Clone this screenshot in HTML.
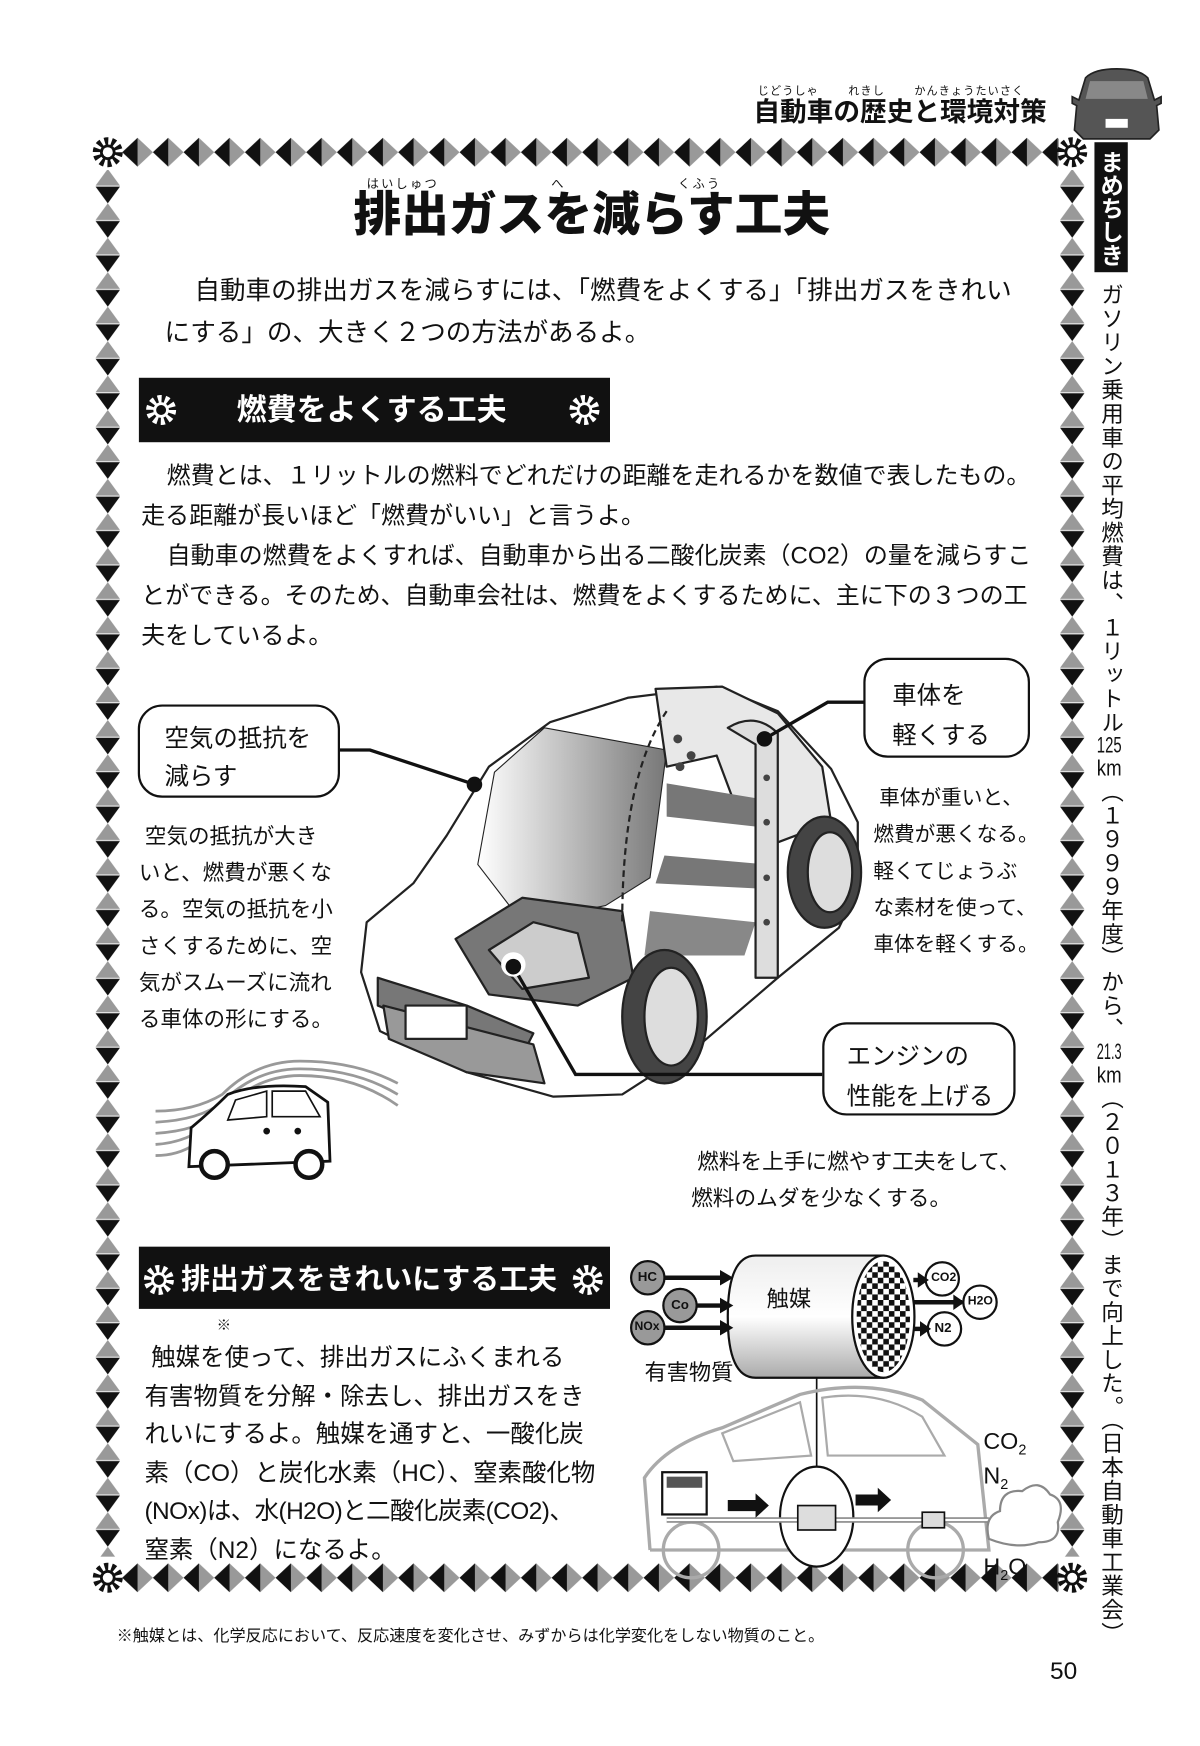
<!DOCTYPE html>
<html><head><meta charset="utf-8"><style>
html,body{margin:0;padding:0;background:#fff;}
body{width:1200px;height:1746px;overflow:hidden;position:relative;}
#pg{position:absolute;left:0;top:0;width:1080px;height:1571px;transform:scale(1.11111);transform-origin:0 0;font-family:"Liberation Sans","Noto Sans CJK JP",sans-serif;color:#111;}
.t{position:absolute;white-space:nowrap;line-height:1;}
.b{font-weight:bold;}
svg{position:absolute;left:0;top:0;}
.box{position:absolute;border:2.5px solid #111;border-radius:22px;background:#fff;}
.v{position:absolute;writing-mode:vertical-rl;white-space:nowrap;line-height:1;}
.tc{text-combine-upright:all;}
</style></head><body><div id="pg">
<svg width="1080" height="1571" viewBox="0 0 1080 1571">
<defs>
<pattern id="ph" x="110" y="122" width="27.6" height="30" patternUnits="userSpaceOnUse">
<polygon points="0,15 13.8,2 13.8,28" fill="#111"/><polygon points="13.8,2 27.6,15 13.8,28" fill="#999"/>
</pattern>
<pattern id="pv" x="86" y="152" width="22" height="31" patternUnits="userSpaceOnUse">
<polygon points="11,0 0,15 22,15" fill="#999"/><polygon points="0,16 22,16 11,31" fill="#111"/>
</pattern>
<pattern id="pv2" x="954" y="152" width="22" height="31" patternUnits="userSpaceOnUse">
<polygon points="11,0 0,15 22,15" fill="#999"/><polygon points="0,16 22,16 11,31" fill="#111"/>
</pattern>
<pattern id="ph2" x="110" y="1405" width="27.6" height="30" patternUnits="userSpaceOnUse">
<polygon points="0,15 13.8,2 13.8,28" fill="#111"/><polygon points="13.8,2 27.6,15 13.8,28" fill="#999"/>
</pattern>
<pattern id="chk" width="10" height="10" patternUnits="userSpaceOnUse">
<rect width="5" height="5" fill="#111"/><rect x="5" y="5" width="5" height="5" fill="#111"/>
</pattern>
<linearGradient id="gw" x1="0" x2="1"><stop offset="0" stop-color="#fff"/><stop offset="1" stop-color="#777"/></linearGradient>
<linearGradient id="gc" x1="0" y1="0" x2="0" y2="1"><stop offset="0" stop-color="#eee"/><stop offset=".5" stop-color="#fff"/><stop offset="1" stop-color="#aaa"/></linearGradient>
<g id="star"><circle r="9" fill="none" stroke="#111" stroke-width="9" stroke-dasharray="3 2.65"/><circle r="7" fill="#111"/><circle r="4.5" fill="#fff"/></g>
<g id="starw"><circle r="9" fill="none" stroke="#fff" stroke-width="9" stroke-dasharray="3 2.65"/><circle r="7" fill="#fff"/><circle r="4.5" fill="#111"/></g>
</defs>
<rect x="110" y="122" width="843" height="30" fill="url(#ph)"/>
<rect x="110" y="1405" width="843" height="30" fill="url(#ph2)"/>
<rect x="86" y="153" width="22" height="1248" fill="url(#pv)"/>
<rect x="954" y="153" width="22" height="1248" fill="url(#pv2)"/>
<use href="#star" x="97" y="137"/><use href="#star" x="965" y="137"/>
<use href="#star" x="97" y="1420"/><use href="#star" x="965" y="1420"/>
<g transform="translate(1005,95)">
<path d="M-28,-25 Q-20,-33 0,-33 Q20,-33 28,-25 L34,-5 L40,-8 L40,-2 L36,0 L38,22 L30,30 L-30,30 L-38,22 L-36,0 L-40,-2 L-40,-8 L-34,-5 Z" fill="#555" stroke="#222" stroke-width="1.5"/>
<path d="M-24,-22 L24,-22 L28,-6 L-28,-6 Z" fill="#888"/>
<rect x="-10" y="12" width="20" height="8" fill="#fff"/>
</g>
<rect x="985" y="128" width="30" height="117" fill="#111"/>
<rect x="125" y="340" width="424" height="58" fill="#111"/>
<use href="#starw" x="145" y="369"/><use href="#starw" x="526" y="369"/>
<rect x="125" y="1122" width="424" height="56" fill="#111"/>
<use href="#starw" x="143" y="1152"/><use href="#starw" x="529" y="1152"/>

<g stroke="#222" stroke-width="2" stroke-linejoin="round">
<path d="M325,875 L330,830 L372,795 L402,752 L440,690 L495,650 L565,628 L645,618 L700,640 L748,692 L772,740 L772,800 L755,835 L700,880 L630,940 L560,985 L498,987 L420,965 L342,928 Z" fill="#fff"/>
<path d="M445,695 L490,655 L600,675 L585,790 L545,815 L470,830 L430,778 Z" fill="url(#gw)" stroke-width="1"/>
<path d="M590,620 L650,618 L700,642 L740,690 L748,740 L695,760 L660,720 L645,680 L600,690 Z" fill="#e8e8e8"/>
<path d="M600,705 L690,720 L690,745 L600,735 Z" fill="#777" stroke="none"/>
<path d="M598,770 L690,778 L690,800 L590,795 Z" fill="#777" stroke="none"/>
<path d="M585,820 L680,830 L670,860 L580,860 Z" fill="#888" stroke="none"/>
<path d="M410,845 L470,808 L560,820 L570,880 L520,905 L440,895 Z" fill="#777"/>
<path d="M440,855 L480,830 L520,840 L530,880 L470,890 Z" fill="#ccc"/>
<path d="M340,880 L420,905 L480,930 L470,950 L400,930 L340,905 Z" fill="#777"/>
<path d="M345,905 L480,940 L490,975 L420,965 L350,935 Z" fill="#999"/>
<rect x="365" y="905" width="55" height="30" fill="#fff"/>
<path d="M655,655 Q680,640 700,660 L700,880 L680,880 L680,670 Z" fill="#ddd"/>
<path d="M600,640 Q560,700 560,830" fill="none" stroke-dasharray="6 4"/>
<ellipse cx="598" cy="915" rx="38" ry="60" fill="#444"/>
<ellipse cx="604" cy="915" rx="24" ry="44" fill="#ddd"/>
<ellipse cx="742" cy="785" rx="33" ry="50" fill="#444"/>
<ellipse cx="747" cy="785" rx="20" ry="36" fill="#ddd"/>
</g>
<g fill="#444"><circle cx="610" cy="665" r="4"/><circle cx="622" cy="680" r="4"/><circle cx="612" cy="690" r="4"/><circle cx="690" cy="700" r="3"/><circle cx="690" cy="740" r="3"/><circle cx="690" cy="790" r="3"/><circle cx="690" cy="830" r="3"/></g>
<g stroke="#111" stroke-width="3" fill="none">
<polyline points="305,675 333,675 427,706"/>
<polyline points="778,632 745,632 688,665"/>
<polyline points="462,870 518,967 740,967"/>
</g>
<circle cx="427" cy="706" r="7" fill="#111"/><circle cx="688" cy="665" r="7" fill="#111"/>
<circle cx="462" cy="868" r="11" fill="#fff"/><circle cx="462" cy="870" r="7" fill="#111"/>
<g fill="none" stroke="#999" stroke-width="2.5">
<path d="M140,1000 Q175,1000 200,985 Q230,955 270,955 Q320,955 358,975"/>
<path d="M140,1010 Q180,1008 200,992 Q230,962 270,962 Q320,962 358,985"/>
<path d="M140,1020 Q178,1018 200,1000 Q230,968 270,968 Q320,968 358,995"/>
<path d="M140,1030 Q170,1028 190,1010"/>
<path d="M140,1040 Q160,1040 175,1030"/>
</g>
<path d="M170,1050 L172,1015 Q190,1000 205,985 Q230,975 275,978 L295,992 L297,1045 Z" fill="#fff" stroke="#111" stroke-width="2.5"/>
<path d="M212,990 L240,982 L240,1005 L205,1008 Z" fill="#fff" stroke="#111" stroke-width="1.5"/>
<path d="M245,982 L275,982 L288,1005 L245,1005 Z" fill="#fff" stroke="#111" stroke-width="1.5"/>
<circle cx="193" cy="1048" r="12" fill="#fff" stroke="#111" stroke-width="4"/>
<circle cx="278" cy="1048" r="12" fill="#fff" stroke="#111" stroke-width="4"/>
<circle cx="240" cy="1018" r="3" fill="#111"/><circle cx="268" cy="1018" r="3" fill="#111"/>

<g stroke="#111" stroke-width="2">
<path d="M680,1130 L795,1130 L795,1240 L680,1240 Q655,1240 655,1185 Q655,1130 680,1130 Z" fill="url(#gc)"/>
<ellipse cx="795" cy="1185" rx="28" ry="55" fill="#fff"/>
<ellipse cx="795" cy="1185" rx="24" ry="50" fill="url(#chk)" stroke="none"/>
<circle cx="583" cy="1150" r="15" fill="#999"/>
<circle cx="612" cy="1175" r="15" fill="#999"/>
<circle cx="583" cy="1195" r="15" fill="#999"/>
<circle cx="848" cy="1151" r="15" fill="#fff"/>
<circle cx="882" cy="1172" r="15" fill="#fff"/>
<circle cx="850" cy="1196" r="15" fill="#fff"/>
</g>
<g stroke="#111" stroke-width="4">
<line x1="598" y1="1150" x2="650" y2="1150"/><line x1="627" y1="1175" x2="650" y2="1175"/><line x1="598" y1="1195" x2="650" y2="1195"/>
<line x1="822" y1="1152" x2="832" y2="1152"/><line x1="822" y1="1172" x2="866" y2="1172"/><line x1="822" y1="1196" x2="834" y2="1196"/>
</g>
<g fill="#111"><polygon points="660,1150 648,1143 648,1157"/><polygon points="660,1175 648,1168 648,1182"/><polygon points="660,1195 648,1188 648,1202"/><polygon points="836,1152 826,1145 826,1159"/><polygon points="868,1172 858,1165 858,1179"/><polygon points="838,1196 828,1189 828,1203"/></g>
<line x1="735" y1="1240" x2="735" y2="1320" stroke="#111" stroke-width="1.5"/>
<g fill="none" stroke="#aaa" stroke-width="3">
<path d="M585,1395 L580,1330 Q600,1300 650,1285 L720,1255 Q780,1240 830,1260 L880,1300 L890,1395 L585,1395"/>
<path d="M650,1290 L720,1262 L730,1310 L660,1315 Z" stroke-width="2"/>
<path d="M740,1258 Q790,1250 830,1275 L850,1310 L745,1310 Z" stroke-width="2"/>
<circle cx="622" cy="1395" r="25"/><circle cx="842" cy="1395" r="25"/>
</g>
<ellipse cx="735" cy="1365" rx="33" ry="45" fill="#fff" stroke="#111" stroke-width="2"/>
<rect x="596" y="1325" width="40" height="38" fill="#fff" stroke="#111" stroke-width="2"/>
<rect x="600" y="1329" width="32" height="10" fill="#555"/>
<line x1="600" y1="1368" x2="890" y2="1368" stroke="#888" stroke-width="5"/>
<line x1="600" y1="1368" x2="890" y2="1368" stroke="#fff" stroke-width="2"/>
<rect x="718" y="1355" width="34" height="22" fill="#ddd" stroke="#111" stroke-width="1.5"/>
<rect x="830" y="1361" width="20" height="14" fill="#ddd" stroke="#111" stroke-width="1.5"/>
<g fill="#111"><polygon points="655,1350 680,1350 680,1344 692,1355 680,1366 680,1360 655,1360"/><polygon points="770,1345 790,1345 790,1339 802,1350 790,1361 790,1355 770,1355"/></g>
<path d="M890,1385 Q885,1365 900,1360 Q900,1340 920,1342 Q935,1330 945,1345 Q960,1350 952,1370 Q955,1388 935,1388 Q915,1395 890,1385 Z" fill="#fff" stroke="#888" stroke-width="2"/>
</svg>

<div class="t" style="left:682px;top:78px;font-size:10px;letter-spacing:1px;">じどうしゃ&nbsp;&nbsp;&nbsp;&nbsp;&nbsp;&nbsp;&nbsp;れきし&nbsp;&nbsp;&nbsp;&nbsp;&nbsp;&nbsp;&nbsp;かんきょうたいさく</div>
<div class="t b" style="left:678px;top:90px;font-size:24px;">自動車の歴史と環境対策</div>
<div class="v b" style="left:989px;top:135px;font-size:21px;color:#fff;">まめちしき</div>

<div class="t" style="left:330px;top:161px;font-size:11px;letter-spacing:2px;">はいしゅつ&nbsp;&nbsp;&nbsp;&nbsp;&nbsp;&nbsp;&nbsp;&nbsp;&nbsp;&nbsp;&nbsp;&nbsp;&nbsp;&nbsp;&nbsp;&nbsp;&nbsp;&nbsp;&nbsp;&nbsp;へ&nbsp;&nbsp;&nbsp;&nbsp;&nbsp;&nbsp;&nbsp;&nbsp;&nbsp;&nbsp;&nbsp;&nbsp;&nbsp;&nbsp;&nbsp;&nbsp;&nbsp;&nbsp;&nbsp;&nbsp;くふう</div>
<div class="t b" style="left:318px;top:173px;font-size:43px;font-weight:900;">排出ガスを減らす工夫</div>

<div class="t" style="left:175px;top:250px;font-size:23px;">自動車の排出ガスを減らすには、「燃費をよくする」「排出ガスをきれい</div>
<div class="t" style="left:148px;top:288px;font-size:23px;">にする」の、大きく２つの方法があるよ。</div>

<div class="t b" style="left:213px;top:356px;font-size:27px;color:#fff;">燃費をよくする工夫</div>

<div class="t" style="left:150px;top:417px;font-size:21.6px;">燃費とは、１リットルの燃料でどれだけの距離を走れるかを数値で表したもの。</div>
<div class="t" style="left:127px;top:453px;font-size:21.6px;">走る距離が長いほど「燃費がいい」と言うよ。</div>
<div class="t" style="left:150px;top:489px;font-size:21.6px;">自動車の燃費をよくすれば、自動車から出る二酸化炭素（CO2）の量を減らすこ</div>
<div class="t" style="left:127px;top:525px;font-size:21.6px;">とができる。そのため、自動車会社は、燃費をよくするために、主に下の３つの工</div>
<div class="t" style="left:127px;top:561px;font-size:21.6px;">夫をしているよ。</div>

<div class="box" style="left:124px;top:634px;width:178px;height:80px;"></div>
<div class="t" style="left:148px;top:648px;font-size:22px;line-height:34px;white-space:normal;width:150px;">空気の抵抗を<br>減らす</div>
<div class="box" style="left:777px;top:592px;width:146px;height:86px;"></div>
<div class="t" style="left:803px;top:608px;font-size:22px;line-height:36px;white-space:normal;width:120px;">車体を<br>軽くする</div>
<div class="box" style="left:740px;top:920px;width:170px;height:80px;"></div>
<div class="t" style="left:762px;top:933px;font-size:22px;line-height:36px;white-space:normal;width:150px;">エンジンの<br>性能を上げる</div>

<div class="t" style="left:125px;top:737px;font-size:19.4px;line-height:33px;">&nbsp;空気の抵抗が大き<br>いと、燃費が悪くな<br>る。空気の抵抗を小<br>さくするために、空<br>気がスムーズに流れ<br>る車体の形にする。</div>
<div class="t" style="left:786px;top:701px;font-size:18.6px;line-height:33px;">&nbsp;車体が重いと、<br>燃費が悪くなる。<br>軽くてじょうぶ<br>な素材を使って、<br>車体を軽くする。</div>
<div class="t" style="left:622px;top:1030px;font-size:19.5px;line-height:33px;">&nbsp;燃料を上手に燃やす工夫をして、<br>燃料のムダを少なくする。</div>

<div class="t b" style="left:163px;top:1138px;font-size:26px;color:#fff;">排出ガスをきれいにする工夫</div>
<div class="t" style="left:195px;top:1186px;font-size:13px;">※</div>
<div class="t" style="left:130px;top:1205px;font-size:22px;line-height:34.5px;">&nbsp;触媒を使って、排出ガスにふくまれる<br>有害物質を分解・除去し、排出ガスをき<br>れいにするよ。触媒を通すと、一酸化炭<br>素（CO）と炭化水素（HC）、窒素酸化物<br><span style="letter-spacing:-0.5px">(NOx)は、水(H2O)と二酸化炭素(CO2)、</span><br>窒素（N2）になるよ。</div>

<div class="t" style="left:574px;top:1143px;font-size:12px;font-weight:bold;">HC</div>
<div class="t" style="left:604px;top:1168px;font-size:12px;font-weight:bold;">Co</div>
<div class="t" style="left:571px;top:1189px;font-size:11px;font-weight:bold;">NOx</div>
<div class="t" style="left:838px;top:1145px;font-size:11px;font-weight:bold;">CO2</div>
<div class="t" style="left:871px;top:1166px;font-size:11px;font-weight:bold;">H2O</div>
<div class="t" style="left:841px;top:1189px;font-size:12px;font-weight:bold;">N2</div>
<div class="t" style="left:690px;top:1160px;font-size:20px;">触媒</div>
<div class="t" style="left:580px;top:1226px;font-size:20px;">有害物質</div>
<div class="t" style="left:885px;top:1287px;font-size:21px;">CO<sub style="font-size:13px">2</sub></div>
<div class="t" style="left:885px;top:1318px;font-size:21px;">N<sub style="font-size:13px">2</sub></div>
<div class="t" style="left:885px;top:1400px;font-size:21px;">H<sub style="font-size:13px">2</sub>O</div>

<div class="v" style="left:988px;top:255px;font-size:20.3px;letter-spacing:1.1px;">ガソリン乗用車の平均燃費は、１リットル<span class="tc">125</span><span class="tc">km</span>（１９９９年度）から、<span class="tc">21.3</span><span class="tc">km</span>（２０１３年）まで向上した。（日本自動車工業会）</div>

<div class="t" style="left:105px;top:1466px;font-size:14.5px;">※触媒とは、化学反応において、反応速度を変化させ、みずからは化学変化をしない物質のこと。</div>
<div class="t" style="left:945px;top:1493px;font-size:22px;">50</div>
</div></body></html>
